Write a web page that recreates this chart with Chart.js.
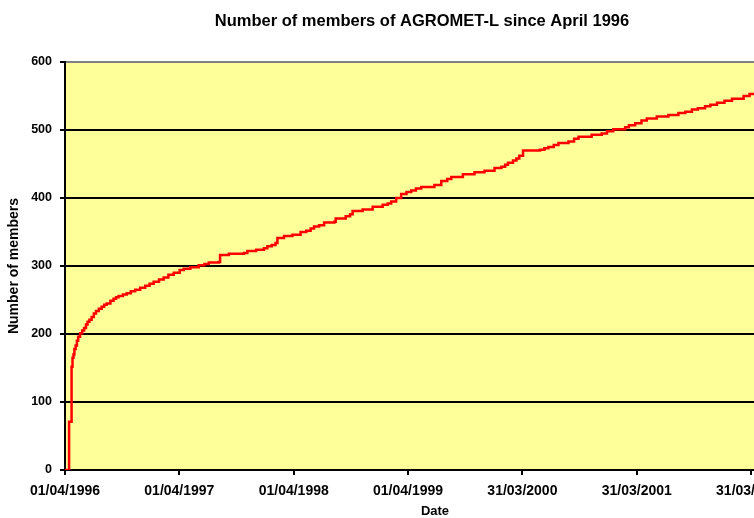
<!DOCTYPE html>
<html><head><meta charset="utf-8">
<script src="https://cdn.jsdelivr.net/npm/chart.js@4/dist/chart.umd.min.js"></script>
<style>html,body{margin:0;padding:0;overflow:hidden;background:#fff;width:754px;height:518px}#wrap{width:844px;height:518px}</style>
</head><body><div id="wrap"><canvas id="c" width="844" height="518"></canvas></div>
<script>
// days since 01/04/1996
const days = [0,13,21,24,27,30,34,38,42,48,55,61,67,72,78,85,92,99,108,117,125,133,145,155,163,171,185,197,210,224,240,256,270,283,300,315,330,347,366,379,400,427,445,459,491,495,523,571,582,610,635,646,660,672,678,699,726,752,770,784,795,811,827,860,864,896,910,918,950,982,1014,1030,1041,1057,1073,1090,1105,1120,1137,1179,1201,1220,1233,1270,1307,1339,1371,1393,1405,1414,1430,1441,1450,1462,1516,1530,1543,1560,1575,1607,1625,1639,1681,1713,1730,1750,1788,1800,1820,1840,1857,1889,1926,1958,1980,2001,2020,2043,2060,2081,2105,2129,2166,2185,2203,2220];
const members = [0,71,152,165,170,178,183,190,196,201,205,209,214,218,221,225,230,234,237,240,243,245,249,252,254,256,258,260,263,265,268,271,274,277,280,283,287,290,294,296,298,301,303,305,306,316,318,319,322,324,326,329,331,334,341,344,346,350,352,355,358,360,364,365,370,373,376,381,383,387,390,392,395,400,406,409,411,414,416,419,425,428,431,435,438,440,444,446,449,452,455,458,462,470,471,473,475,478,481,483,487,490,493,495,498,501,504,507,510,514,517,520,522,525,527,530,532,535,537,540,543,546,550,553,556,558];
const tickDays = [0,365,730,1095,1460,1825,2190];
const tickLabels = ['01/04/1996','01/04/1997','01/04/1998','01/04/1999','31/03/2000','31/03/2001','31/03/2002'];
const yTicks = [0,100,200,300,400,500,600];
const titleText = 'Number of members of AGROMET-L since April 1996';
const xTitle = 'Date';
const yTitle = 'Number of members';

const FONT = '"Liberation Sans", Arial, sans-serif';

const bgPlugin = {
  id: 'bg',
  beforeDraw(chart) {
    const {ctx, chartArea: a} = chart;
    ctx.save();
    ctx.fillStyle = '#FFFF99';
    ctx.fillRect(a.left, a.top, a.right - a.left, a.bottom - a.top);
    ctx.restore();
  },
  afterDraw(chart) {
    const ctx = chart.ctx;
    ctx.save();
    ctx.font = 'bold 16.5px ' + FONT;
    ctx.fillStyle = '#000';
    ctx.textAlign = 'center';
    ctx.textBaseline = 'middle';
    ctx.fillText(titleText, 422, 21);
    ctx.restore();
  }
};

new Chart(document.getElementById('c'), {
  type: 'line',
  data: {
    datasets: [{
      data: days.map((d, i) => ({x: d, y: members[i]})),
      borderColor: '#FF0000',
      borderWidth: 2.5,
      pointRadius: 0,
      stepped: 'before',
      fill: false
    }]
  },
  options: {
    responsive: false,
    animation: false,
    devicePixelRatio: 1,
    layout: {padding: {top: 62, right: 39, left: 0, bottom: 0}},
    plugins: {legend: {display: false}, tooltip: {enabled: false}, title: {display: false}},
    scales: {
      x: {
        type: 'linear', min: 0, max: 2362,
        afterBuildTicks: s => { s.ticks = tickDays.map(v => ({value: v})); },
        afterFit: s => { s.height = 48; },
        ticks: {
          callback: v => tickLabels[tickDays.indexOf(v)],
          font: {family: FONT, size: 14, weight: 'bold'},
          color: '#000', padding: 8, maxRotation: 0, autoSkip: false
        },
        grid: {drawOnChartArea: false, drawTicks: true, tickLength: 5, color: '#000', tickColor: '#000', lineWidth: 2},
        border: {display: true, color: '#000', width: 2},
        title: {display: true, text: xTitle, color: '#000', font: {family: FONT, size: 13, weight: 'bold', lineHeight: 1}, padding: {top: 0, bottom: 0}}
      },
      y: {
        min: 0, max: 600,
        afterBuildTicks: s => { s.ticks = yTicks.map(v => ({value: v})); },
        afterFit: s => { s.width = 65; },
        ticks: {font: {family: FONT, size: 12.5, weight: 'bold'}, color: '#000', padding: 8},
        grid: {
          color: c => (c.tick && c.tick.value === 600) ? '#808080' : '#000',
          tickColor: '#000', lineWidth: 2, tickLength: 5
        },
        border: {display: true, color: '#000', width: 2},
        title: {display: true, text: yTitle, color: '#000', font: {family: FONT, size: 14, weight: 'bold', lineHeight: 1.2}, padding: {top: 6, bottom: 0}}
      }
    }
  },
  plugins: [bgPlugin]
});
</script>
</body></html>
